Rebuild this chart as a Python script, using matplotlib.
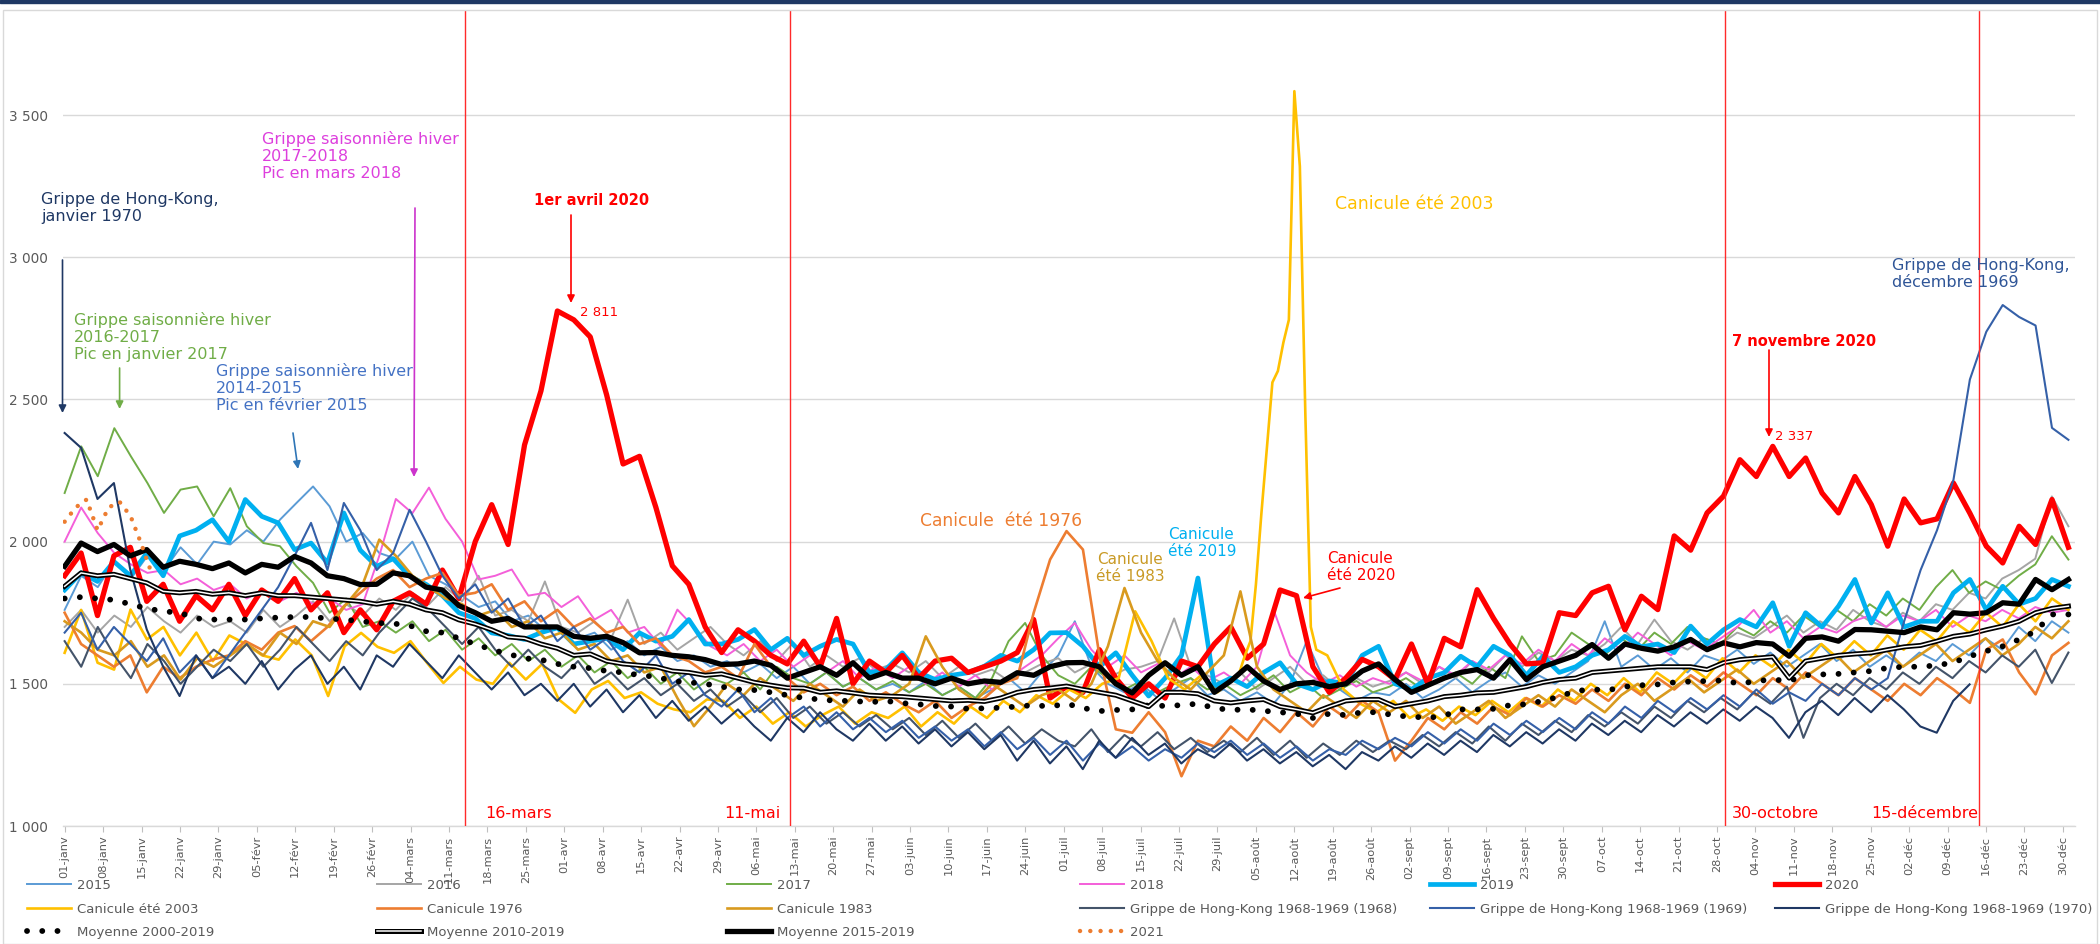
import datetime
import numpy as np
import matplotlib
matplotlib.use('Agg')
import matplotlib.pyplot as plt
import matplotlib.patheffects as pe
from matplotlib.patches import Rectangle

W, H = 2100, 944

# ---- données (décès quotidiens) ----
an_2015 = [1760, 1880, 1840, 1930, 1870, 1950, 1900, 1980, 1920, 2000,
           1990, 2040, 2000, 2077, 2136, 2194, 2124, 2000, 2030, 1960,
           1940, 2000, 1880, 1850, 1810, 1770, 1790, 1720, 1740, 1690,
           1700, 1660, 1680, 1620, 1650, 1600, 1630, 1580, 1600, 1560,
           1580, 1540, 1570, 1520, 1560, 1500, 1540, 1490, 1520, 1480,
           1500, 1470, 1510, 1460, 1490, 1450, 1480, 1520, 1470, 1540,
           1600, 1720, 1560, 1500, 1470, 1500, 1450, 1480, 1520, 1460,
           1480, 1440, 1470, 1430, 1500, 1650, 1520, 1480, 1440, 1470,
           1460, 1500, 1450, 1480, 1520, 1470, 1510, 1540, 1490, 1530,
           1500, 1540, 1580, 1720, 1560, 1600, 1550, 1590, 1540, 1600,
           1580, 1620, 1570, 1610, 1560, 1600, 1640, 1580, 1620, 1560,
           1600, 1560, 1610, 1580, 1640, 1600, 1660, 1620, 1700, 1650, 1720, 1680]

an_2016 = [1700, 1760, 1680, 1740, 1700, 1770, 1720, 1680, 1740, 1700,
           1720, 1680, 1760, 1700, 1740, 1790, 1720, 1780, 1740, 1800,
           1760, 1820, 1780, 1840, 1790, 1880, 1740, 1760, 1720, 1860,
           1700, 1680, 1720, 1660, 1796, 1640, 1680, 1620, 1660, 1700,
           1640, 1600, 1650, 1580, 1644, 1560, 1600, 1560, 1590, 1550,
           1570, 1540, 1580, 1520, 1560, 1530, 1550, 1510, 1540, 1570,
           1590, 1540, 1570, 1520, 1550, 1560, 1580, 1730, 1560, 1530,
           1500, 1540, 1480, 1520, 1560, 1500, 1530, 1480, 1520, 1490,
           1510, 1540, 1500, 1560, 1520, 1580, 1540, 1600, 1560, 1610,
           1580, 1620, 1600, 1640, 1700, 1640, 1726, 1650, 1620, 1660,
           1640, 1680, 1660, 1700, 1740, 1680, 1720, 1690, 1760, 1720,
           1700, 1750, 1720, 1780, 1760, 1820, 1800, 1870, 1900, 1940, 2159, 2054]

an_2017 = [2171, 2335, 2230, 2399, 2300, 2206, 2101, 2183, 2194, 2089,
           2188, 2054, 1995, 1984, 1913, 1855, 1750, 1800, 1700, 1720,
           1680, 1720, 1650, 1690, 1620, 1660, 1600, 1640, 1580, 1620,
           1560, 1600, 1540, 1580, 1520, 1560, 1500, 1540, 1480, 1520,
           1500, 1540, 1480, 1560, 1520, 1500, 1540, 1490, 1520, 1480,
           1510, 1470, 1500, 1460, 1490, 1450, 1520, 1650, 1714, 1600,
           1530, 1500, 1560, 1520, 1480, 1510, 1470, 1500, 1520, 1480,
           1500, 1460, 1490, 1530, 1470, 1500, 1450, 1480, 1510, 1470,
           1490, 1520, 1480, 1510, 1540, 1500, 1560, 1520, 1667, 1580,
           1600, 1680, 1640, 1600, 1660, 1620, 1680, 1640, 1700, 1660,
           1640, 1700, 1670, 1720, 1680, 1740, 1700, 1760, 1720, 1780,
           1740, 1800, 1760, 1840, 1900, 1820, 1860, 1830, 1880, 1920, 2019, 1937]

an_2018 = [2000, 2120, 2030, 1960, 1920, 1890, 1900, 1850, 1870, 1830,
           1850, 1800, 1830, 1790, 1820, 1780, 1800, 1760, 1780, 1950,
           2150, 2100, 2190, 2080, 2000, 1867, 1880, 1902, 1810, 1820,
           1770, 1808, 1726, 1760, 1680, 1700, 1632, 1761, 1700, 1632,
           1600, 1640, 1580, 1620, 1560, 1600, 1540, 1580, 1520, 1560,
           1520, 1560, 1500, 1540, 1490, 1530, 1480, 1520, 1560, 1600,
           1660, 1714, 1620, 1560, 1600, 1540, 1570, 1520, 1560, 1510,
           1540, 1500, 1560, 1761, 1600, 1540, 1500, 1530, 1490, 1520,
           1500, 1540, 1510, 1560, 1530, 1580, 1550, 1600, 1570, 1620,
           1580, 1640, 1600, 1660, 1620, 1680, 1640, 1600, 1650, 1620,
           1660, 1700, 1760, 1680, 1720, 1660, 1700, 1680, 1720, 1740,
           1700, 1740, 1720, 1760, 1700, 1740, 1720, 1760, 1730, 1770, 1750, 1760]

an_2019 = [1830, 1890, 1860, 1930, 1880, 1960, 1880, 2020, 2040, 2077,
           2000, 2148, 2089, 2066, 1972, 1995, 1925, 2101, 1970, 1913,
           1940, 1878, 1850, 1810, 1750, 1730, 1679, 1670, 1656, 1680,
           1697, 1640, 1650, 1660, 1620, 1679, 1650, 1667, 1726, 1640,
           1640, 1656, 1691, 1620, 1660, 1600, 1632, 1656, 1640, 1539,
           1550, 1609, 1540, 1515, 1530, 1539, 1562, 1600, 1580, 1620,
           1679, 1680, 1632, 1560, 1609, 1530, 1457, 1520, 1600, 1872,
           1492, 1520, 1490, 1540, 1574, 1500, 1480, 1510, 1500, 1600,
           1632, 1500, 1480, 1520, 1539, 1597, 1560, 1632, 1600, 1530,
           1597, 1540, 1560, 1600, 1620, 1667, 1630, 1640, 1610, 1703,
           1640, 1690, 1726, 1700, 1785, 1632, 1750, 1700, 1773, 1867,
           1714, 1820, 1700, 1720, 1720, 1820, 1867, 1760, 1843, 1780, 1800, 1867, 1843]

an_2020 = [1880, 1960, 1740, 1950, 1980, 1790, 1850, 1720, 1810, 1760,
           1850, 1740, 1830, 1790, 1870, 1760, 1820, 1680, 1760, 1690,
           1790, 1820, 1780, 1900, 1800, 2000, 2130, 1990, 2340, 2530,
           2811, 2780, 2720, 2516, 2273, 2300, 2120, 1915, 1850, 1700,
           1610, 1690, 1650, 1600, 1570, 1650, 1560, 1730, 1500, 1580,
           1540, 1600, 1520, 1580, 1590, 1540, 1560, 1580, 1610, 1726,
           1450, 1490, 1470, 1620, 1520, 1450, 1500, 1450, 1580, 1560,
           1640, 1700, 1590, 1640, 1830, 1810, 1560, 1470, 1520, 1586,
           1560, 1515, 1640, 1500, 1660, 1630, 1831, 1730, 1640, 1570,
           1574, 1750, 1740, 1820, 1843, 1690, 1808, 1761, 2020, 1970,
           2101, 2160, 2288, 2229, 2335, 2229, 2294, 2171, 2101, 2229,
           2130, 1984, 2150, 2066, 2080, 2206, 2100, 1984, 1925, 2054, 1990, 2148, 1980]

# canicule 2003 : avant, pendant (jour par jour du 214 au 230), après
can_2003_avant = [1609, 1760, 1574, 1550, 1761, 1656, 1700, 1600, 1680, 1580,
                  1670, 1640, 1600, 1585, 1656, 1600, 1457, 1632, 1679, 1630,
                  1609, 1650, 1574, 1503, 1560, 1515, 1500, 1574, 1515, 1570,
                  1445, 1398, 1480, 1510, 1450, 1470, 1430, 1410, 1400, 1445,
                  1440, 1380, 1420, 1360, 1400, 1350, 1390, 1420, 1360, 1400,
                  1380, 1420, 1350, 1400, 1360, 1420, 1380, 1440, 1400, 1460,
                  1430, 1480, 1450, 1500, 1520, 1755, 1650, 1520, 1480, 1530, 1470, 1520]
can_2003_pic = [1540, 1600, 1650, 1850, 2100, 2330, 2560, 2600, 2700, 2780,
                3584, 3320, 2450, 1700, 1620, 1610, 1600]
can_2003_apres = [1480, 1430, 1400, 1440, 1380, 1410, 1370, 1420, 1390, 1440,
                  1400, 1450, 1420, 1480, 1440, 1500, 1460, 1520, 1470, 1540,
                  1500, 1560, 1520, 1590, 1540, 1600, 1560, 1620, 1570, 1640,
                  1590, 1650, 1600, 1670, 1620, 1690, 1650, 1720, 1680, 1750,
                  1700, 1780, 1720, 1800, 1760]

can_1976 = [1750, 1640, 1600, 1560, 1600, 1470, 1560, 1520, 1560, 1585,
            1600, 1650, 1620, 1680, 1703, 1650, 1700, 1773, 1820, 1870,
            1900, 1840, 1870, 1890, 1810, 1820, 1850, 1760, 1790, 1720,
            1760, 1700, 1730, 1680, 1700, 1640, 1660, 1600, 1580, 1540,
            1560, 1520, 1640, 1560, 1520, 1470, 1500, 1460, 1490, 1440,
            1470, 1430, 1400, 1440, 1380, 1420, 1450, 1500, 1520, 1750,
            1937, 2037, 1972, 1600, 1340, 1328, 1400, 1330, 1175, 1300,
            1280, 1350, 1300, 1380, 1330, 1400, 1350, 1420, 1380, 1440,
            1400, 1230, 1300, 1380, 1340, 1400, 1360, 1420, 1390, 1450,
            1420, 1460, 1430, 1480, 1440, 1500, 1460, 1520, 1480, 1530,
            1490, 1540, 1500, 1460, 1520, 1480, 1540, 1500, 1460, 1520,
            1480, 1440, 1500, 1460, 1520, 1480, 1433, 1620, 1656, 1540, 1463, 1600, 1644]

can_1983 = [1720, 1680, 1620, 1600, 1650, 1560, 1600, 1515, 1590, 1560,
            1600, 1640, 1600, 1680, 1640, 1720, 1700, 1780, 1850, 2007,
            1950, 1880, 1840, 1800, 1780, 1740, 1760, 1700, 1720, 1660,
            1680, 1620, 1640, 1580, 1600, 1540, 1560, 1450, 1351, 1420,
            1500, 1460, 1520, 1480, 1440, 1500, 1460, 1420, 1480, 1440,
            1460, 1500, 1667, 1560, 1480, 1440, 1500, 1460, 1420, 1460,
            1480, 1440, 1500, 1632, 1837, 1680, 1580, 1520, 1480, 1540,
            1600, 1825, 1560, 1480, 1440, 1400, 1460, 1420, 1380, 1440,
            1400, 1440, 1380, 1420, 1360, 1400, 1440, 1380, 1420, 1460,
            1420, 1480, 1440, 1400, 1460, 1500, 1440, 1480, 1520, 1470,
            1510, 1550, 1500, 1540, 1580, 1520, 1560, 1600, 1540, 1580,
            1620, 1560, 1600, 1640, 1580, 1620, 1660, 1600, 1640, 1700, 1660, 1720]

hk_1968 = [1650, 1560, 1700, 1600, 1520, 1640, 1580, 1500, 1560, 1620,
           1580, 1640, 1560, 1620, 1700, 1640, 1580, 1650, 1600, 1680,
           1740, 1800, 1760, 1700, 1640, 1700, 1620, 1560, 1620, 1560,
           1520, 1580, 1500, 1540, 1480, 1520, 1460, 1500, 1440, 1480,
           1420, 1460, 1400, 1450, 1380, 1420, 1360, 1400, 1350, 1390,
           1340, 1380, 1320, 1370, 1310, 1360, 1300, 1350, 1290, 1340,
           1300, 1280, 1340, 1260, 1320, 1280, 1330, 1270, 1310, 1260,
           1300, 1260, 1310, 1250, 1300, 1240, 1290, 1250, 1300, 1260,
           1300, 1270, 1320, 1280, 1330, 1290, 1350, 1300, 1360, 1320,
           1370, 1330, 1390, 1350, 1400, 1360, 1420, 1380, 1440, 1400,
           1450, 1410, 1470, 1430, 1490, 1310, 1450, 1500, 1460, 1520,
           1480, 1540, 1500, 1560, 1520, 1580, 1540, 1600, 1560, 1620, 1503, 1610]

hk_1969 = [1680, 1750, 1620, 1700, 1640, 1580, 1660, 1540, 1600, 1520,
           1600, 1680, 1760, 1840, 1950, 2066, 1900, 2136, 2040, 1900,
           1960, 2112, 2000, 1880, 1800, 1850, 1750, 1800, 1700, 1740,
           1650, 1700, 1620, 1660, 1580, 1540, 1600, 1500, 1540, 1460,
           1420, 1480, 1400, 1450, 1380, 1420, 1350, 1400, 1340, 1380,
           1330, 1370, 1310, 1350, 1300, 1340, 1280, 1330, 1270, 1310,
           1250, 1300, 1230, 1290, 1240, 1280, 1230, 1270, 1240, 1290,
           1260, 1300, 1250, 1290, 1240, 1280, 1230, 1270, 1250, 1300,
           1270, 1310, 1280, 1330, 1290, 1340, 1300, 1360, 1320, 1370,
           1330, 1380, 1340, 1400, 1360, 1420, 1380, 1440, 1400, 1450,
           1410, 1460, 1420, 1480, 1430, 1470, 1440, 1500, 1460, 1520,
           1480, 1520, 1720, 1900, 2040, 2217, 2570, 2738, 2832, 2790, 2760, 2400, 2358]

# la série 1970 s'arrête mi-décembre
hk_1970 = [2382, 2330, 2150, 2206, 1900, 1691, 1560, 1457, 1600, 1520,
           1560, 1500, 1580, 1480, 1550, 1600, 1500, 1560, 1480, 1600,
           1560, 1640, 1580, 1520, 1600, 1540, 1480, 1540, 1460, 1500,
           1440, 1500, 1420, 1480, 1400, 1460, 1380, 1440, 1370, 1420,
           1360, 1410, 1350, 1300, 1380, 1330, 1400, 1340, 1300, 1360,
           1300, 1350, 1290, 1340, 1280, 1330, 1270, 1320, 1230, 1300,
           1220, 1280, 1200, 1300, 1240, 1310, 1250, 1290, 1220, 1270,
           1240, 1290, 1230, 1270, 1220, 1260, 1210, 1250, 1200, 1260,
           1230, 1280, 1240, 1290, 1250, 1300, 1260, 1320, 1280, 1330,
           1290, 1340, 1300, 1360, 1320, 1370, 1330, 1390, 1350, 1400,
           1360, 1410, 1370, 1420, 1380, 1310, 1400, 1440, 1390, 1450,
           1400, 1460, 1410, 1350, 1328, 1440, 1498]

moy_2000_2019 = [1800, 1805, 1800, 1795, 1780, 1765, 1755, 1750, 1730, 1726,
                 1726, 1726, 1730, 1733, 1735, 1735, 1730, 1726, 1720, 1714,
                 1712, 1705, 1685, 1680, 1660, 1640, 1620, 1605, 1590, 1585,
                 1570, 1560, 1555, 1545, 1540, 1530, 1525, 1510, 1505, 1500,
                 1490, 1480, 1478, 1470, 1460, 1450, 1445, 1440, 1440, 1435,
                 1440, 1432, 1428, 1422, 1420, 1412, 1414, 1416, 1420, 1425,
                 1420, 1430, 1415, 1404, 1408, 1410, 1425, 1422, 1425, 1430,
                 1415, 1408, 1410, 1405, 1400, 1395, 1380, 1395, 1390, 1400,
                 1400, 1388, 1385, 1380, 1388, 1410, 1410, 1412, 1425, 1428,
                 1440, 1455, 1475, 1480, 1478, 1490, 1495, 1498, 1505, 1508,
                 1510, 1512, 1500, 1510, 1515, 1510, 1530, 1533, 1535, 1540,
                 1545, 1556, 1560, 1560, 1565, 1575, 1597, 1615, 1632, 1656, 1685, 1744, 1744]

moy_2010_2019 = [1843, 1890, 1880, 1885, 1870, 1855, 1825, 1820, 1825, 1815,
                 1820, 1810, 1820, 1810, 1810, 1805, 1800, 1795, 1790, 1780,
                 1790, 1780, 1760, 1750, 1725, 1710, 1690, 1665, 1660, 1640,
                 1625, 1600, 1605, 1580, 1570, 1565, 1560, 1545, 1540, 1530,
                 1535, 1520, 1505, 1495, 1486, 1485, 1470, 1475, 1468, 1460,
                 1457, 1455, 1450, 1445, 1440, 1442, 1438, 1450, 1470, 1480,
                 1485, 1492, 1480, 1470, 1460, 1440, 1420, 1470, 1470, 1465,
                 1440, 1433, 1440, 1445, 1420, 1410, 1398, 1420, 1440, 1445,
                 1445, 1420, 1430, 1440, 1455, 1460, 1468, 1470, 1480, 1490,
                 1505, 1515, 1520, 1540, 1545, 1550, 1555, 1560, 1560, 1560,
                 1550, 1574, 1585, 1590, 1595, 1520, 1580, 1590, 1600, 1605,
                 1609, 1620, 1630, 1635, 1650, 1667, 1675, 1690, 1703, 1720, 1750, 1765, 1773]

moy_2015_2019 = [1913, 1995, 1965, 1990, 1950, 1972, 1910, 1931, 1920, 1905,
                 1925, 1890, 1920, 1910, 1948, 1925, 1880, 1870, 1849, 1850,
                 1890, 1880, 1840, 1830, 1775, 1750, 1720, 1730, 1700, 1700,
                 1700, 1667, 1660, 1667, 1645, 1609, 1610, 1600, 1595, 1585,
                 1568, 1570, 1580, 1565, 1520, 1540, 1560, 1530, 1574, 1520,
                 1540, 1520, 1520, 1500, 1520, 1500, 1510, 1505, 1539, 1530,
                 1560, 1574, 1575, 1560, 1500, 1468, 1530, 1574, 1530, 1560,
                 1470, 1510, 1560, 1510, 1480, 1500, 1505, 1490, 1500, 1545,
                 1570, 1515, 1470, 1495, 1520, 1540, 1550, 1520, 1585, 1515,
                 1560, 1580, 1600, 1638, 1590, 1640, 1625, 1615, 1630, 1656,
                 1620, 1644, 1630, 1645, 1640, 1597, 1660, 1665, 1650, 1691,
                 1690, 1685, 1680, 1700, 1690, 1750, 1745, 1750, 1785, 1780, 1867, 1831, 1867]

an_2021_jours = [0, 2, 4, 6, 8, 10, 12, 14, 16]
an_2021 = [2070, 2120, 2148, 2040, 2120, 2140, 2090, 1990, 1880]

mois = ['janv', 'févr', 'mars', 'avr', 'mai', 'juin', 'juil', 'août',
        'sept', 'oct', 'nov', 'déc']


def spread(vals, a=0, b=365):
    return np.linspace(a, b, len(vals))


def F(x, y):
    # pixels de l'image -> fraction de figure
    return (x / W, 1 - y / H)


jours_2003 = np.concatenate([spread(can_2003_avant, 0, 213),
                             214 + np.arange(len(can_2003_pic)),
                             spread(can_2003_apres, 233, 365)])
vals_2003 = can_2003_avant + can_2003_pic + can_2003_apres

fig = plt.figure(figsize=(W / 100, H / 100), dpi=100)
ax = fig.add_axes((63 / W, 1 - 826 / H, (2075 - 63) / W, (826 - 11) / H))

thin = 1.4
series = [
    ('2015', spread(an_2015), an_2015, dict(color='#5B9BD5', lw=thin)),
    ('2016', spread(an_2016), an_2016, dict(color='#A5A5A5', lw=thin)),
    ('2017', spread(an_2017), an_2017, dict(color='#70AD47', lw=thin)),
    ('2018', spread(an_2018), an_2018, dict(color='#F45FD9', lw=thin)),
    ('2019', spread(an_2019), an_2019, dict(color='#00B0F0', lw=3.4)),
    ('2020', spread(an_2020), an_2020, dict(color='#FF0000', lw=3.8)),
    ('Canicule été 2003', jours_2003, vals_2003, dict(color='#FFC000', lw=1.9)),
    ('Canicule 1976', spread(can_1976), can_1976, dict(color='#ED7D31', lw=1.9)),
    ('Canicule 1983', spread(can_1983), can_1983, dict(color='#D99A1E', lw=1.9)),
    ('Grippe de Hong-Kong 1968-1969 (1968)', spread(hk_1968), hk_1968,
     dict(color='#44546A', lw=1.5)),
    ('Grippe de Hong-Kong 1968-1969 (1969)', spread(hk_1969), hk_1969,
     dict(color='#3560A8', lw=1.5)),
    ('Grippe de Hong-Kong 1968-1969 (1970)', spread(hk_1970, 0, 347), hk_1970,
     dict(color='#1F3864', lw=1.5)),
    ('Moyenne 2000-2019', spread(moy_2000_2019), moy_2000_2019,
     dict(color='black', lw=4.2, ls=(0, (0.01, 2.6)), dash_capstyle='round')),
    ('Moyenne 2010-2019', spread(moy_2010_2019), moy_2010_2019,
     dict(color='white', lw=1.1,
          path_effects=[pe.Stroke(linewidth=3.6, foreground='black'), pe.Normal()])),
    ('Moyenne 2015-2019', spread(moy_2015_2019), moy_2015_2019,
     dict(color='black', lw=3.8)),
    ('2021', an_2021_jours, an_2021,
     dict(color='#ED7D31', lw=3.2, ls=(0, (0.01, 2.3)), dash_capstyle='round')),
]

handles = {}
for label, x, y, kw in series:
    line, = ax.plot(x, y, label=label, solid_joinstyle='round', **kw)
    handles[label] = line

ax.set_xlim(-0.3, 366.2)
ax.set_ylim(1000, 3866)

# axes
for s in ['top', 'right', 'left']:
    ax.spines[s].set_visible(False)
ax.spines['bottom'].set_color('#D9D9D9')
ax.spines['bottom'].set_linewidth(1.0)
ax.set_axisbelow(True)
ax.yaxis.grid(True, color='#D9D9D9', lw=1.0)

yt = [1000, 1500, 2000, 2500, 3000, 3500]
ax.set_yticks(yt)
ax.set_yticklabels([f'{v:,}'.replace(',', ' ') for v in yt])
ax.tick_params(axis='y', length=0, pad=11, labelsize=9.8, labelcolor='#595959')

debut = datetime.date(2020, 1, 1)
xt = list(range(0, 365, 7))
xl = []
for d in xt:
    j = debut + datetime.timedelta(days=d)
    xl.append(f'{j.day:02d}-{mois[j.month - 1]}')
ax.set_xticks(xt)
ax.set_xticklabels(xl, rotation=90)
ax.tick_params(axis='x', length=4, color='#BFBFBF', pad=3, labelsize=8.2,
               labelcolor='#595959')

# lignes verticales (confinements)
for d in [73.0, 132.2, 302.5, 348.7]:
    ax.axvline(d, color='#FF2A2A', lw=1.0, zorder=6)

red = '#FF0000'
fig.text(*F(485, 813), '16-mars', color=red, fontsize=11.5, va='center', ha='left')
fig.text(*F(781, 814), '11-mai', color=red, fontsize=11.5, va='center', ha='right')
fig.text(*F(1732, 813), '30-octobre', color=red, fontsize=11.5, va='center', ha='left')
fig.text(*F(1978, 813), '15-décembre', color=red, fontsize=11.5, va='center', ha='right')


def fleche(x0, y0, x1, y1, c):
    ax.annotate('', xy=F(x1, y1), xycoords='figure fraction',
                xytext=F(x0, y0), textcoords='figure fraction',
                arrowprops=dict(arrowstyle='-|>', color=c, lw=1.2,
                                mutation_scale=11, shrinkA=0, shrinkB=0))


def texte(x, y, s, c, fs=11.5, ha='left', **kw):
    fig.text(*F(x, y), s, color=c, fontsize=fs, ha=ha, va='center',
             linespacing=1.15, **kw)


texte(41, 208, 'Grippe de Hong-Kong,\njanvier 1970', '#1F3864')
fleche(62.5, 260, 62.5, 413, '#1F3864')

texte(74, 337, 'Grippe saisonnière hiver\n2016-2017\nPic en janvier 2017', '#70AD47')
fleche(119.6, 368, 119.6, 409, '#70AD47')

texte(216, 388, 'Grippe saisonnière hiver\n2014-2015\nPic en février 2015', '#4472C4')
fleche(293, 433, 298, 469, '#2E75B6')

texte(262, 156, 'Grippe saisonnière hiver\n2017-2018\nPic en mars 2018', '#DD3FDD')
fleche(415, 208, 414, 477, '#CC33CC')

texte(592, 201, '1er avril 2020', red, fs=10.5, ha='center', fontweight='bold')
fleche(571, 215, 571, 303, red)
texte(580, 312, '2 811', red, fs=9.5)

texte(1335, 204, 'Canicule été 2003', '#FFC000', fs=12.5)
texte(920, 521, 'Canicule  été 1976', '#ED7D31', fs=12.3)
texte(1130, 568, 'Canicule\nété 1983', '#C99A25', fs=11, ha='center')
texte(1168, 543, 'Canicule\nété 2019', '#00B0F0', fs=11)
texte(1327, 567, 'Canicule\nété 2020', red, fs=11)
fleche(1340, 588, 1303, 598, red)

texte(1804, 342, '7 novembre 2020', red, fs=10.5, ha='center', fontweight='bold')
fleche(1769, 350, 1769, 437, red)
texte(1775, 437, '2 337', red, fs=9.5)

texte(1892, 274, 'Grippe de Hong-Kong,\ndécembre 1969', '#2F5597')

# légende en 6 colonnes régulières
colonnes = [['2015', 'Canicule été 2003', 'Moyenne 2000-2019'],
            ['2016', 'Canicule 1976', 'Moyenne 2010-2019'],
            ['2017', 'Canicule 1983', 'Moyenne 2015-2019'],
            ['2018', 'Grippe de Hong-Kong 1968-1969 (1968)', '2021'],
            ['2019', 'Grippe de Hong-Kong 1968-1969 (1969)'],
            ['2020', 'Grippe de Hong-Kong 1968-1969 (1970)']]
for x0, labs in zip([27, 377, 727, 1080, 1430, 1775], colonnes):
    fig.legend([handles[l] for l in labs], labs, loc='upper left',
               bbox_to_anchor=F(x0, 879), bbox_transform=fig.transFigure,
               frameon=False, borderpad=0, borderaxespad=0, handlelength=3.3,
               handletextpad=0.5, labelspacing=0.8, fontsize=9.5,
               labelcolor='#595959')

# cadre et bandeau
fig.patches.append(Rectangle((3 / W, 0), (2097 - 3) / W, 1 - 10 / H, fill=False,
                             ec='#D9D9D9', lw=1.0, transform=fig.transFigure))
fig.patches.append(Rectangle((0, 1 - 3 / H), 1, 3 / H, color='#1F3864',
                             transform=fig.transFigure))

fig.savefig('out.png', dpi=100)
